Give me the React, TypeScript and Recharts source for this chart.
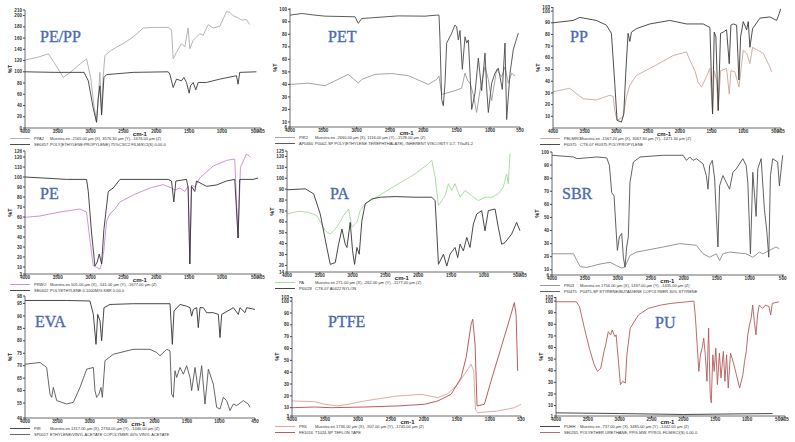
import React from "react";
import { LineChart, Line, XAxis, YAxis } from "recharts";

type Pt = [number, number];

// wavenumber (cm-1), %T
const pePpSample: Pt[] = [[4000,121],[3800,126],[3645,132],[3520,110],[3417,90],[3300,100],[3150,115],[3062,123],[3000,90],[2950,40],[2910,11],[2880,60],[2859,99],[2833,26],[2810,90],[2783,129],[2700,137],[2605,144],[2480,152],[2351,162],[2199,178],[2047,179],[1819,179],[1768,175],[1743,123],[1692,135],[1616,150],[1565,144],[1515,178],[1489,141],[1438,156],[1337,168],[1286,165],[1210,184],[1134,178],[1033,181],[931,207],[880,206],[830,200],[754,196],[700,192],[627,193],[576,184]];
const pePpRef: Pt[] = [[4000,100],[3550,99],[3100,99],[3036,84],[2960,35],[2910,10],[2884,53],[2859,75],[2833,23],[2798,90],[2757,95],[2351,99],[1819,100],[1794,96],[1743,72],[1692,87],[1616,84],[1580,90],[1540,81],[1499,62],[1479,75],[1438,81],[1398,68],[1362,81],[1236,81],[1033,87],[779,93],[754,78],[729,99],[475,100]];

const petRef: Pt[] = [[4000,95.3],[3825,96.6],[3625,95.3],[3475,94.5],[3025,94],[2975,88.7],[2925,92.6],[2375,94.7],[1975,94.5],[1800,95.3],[1765,95.3],[1750,75.5],[1725,28],[1700,23],[1675,41],[1650,73],[1575,80.8],[1525,87.4],[1500,86],[1475,75.5],[1450,83],[1415,52],[1375,78],[1350,73],[1325,75.5],[1300,49],[1275,20],[1225,33],[1175,61],[1125,35],[1075,65],[1050,37],[1025,17.6],[975,41],[925,49],[875,53],[815,36],[775,73],[750,12],[700,49],[650,68],[575,81]];
const petSample: Pt[] = [[4000,40],[3725,41],[3475,39],[3125,48],[2975,41],[2925,44],[2725,48],[2475,48.7],[2225,47],[1925,40],[1800,44],[1765,46.6],[1725,32],[1525,35],[1425,37],[1375,49],[1335,43],[1300,41],[1250,32],[1200,17.6],[1150,35],[1075,54],[1025,44],[975,27],[900,52],[825,46],[775,54],[725,41],[675,49],[625,46.6]];

const ppRef: Pt[] = [[4000,90],[3684,92],[3579,94.6],[3316,92],[3158,88],[3079,81],[3026,38],[2990,6.6],[2921,5],[2884,12],[2853,47],[2816,81],[2789,74],[2763,82],[2684,85],[2474,89],[2158,92],[1895,89],[1816,89],[1632,89],[1526,86],[1484,12],[1458,82],[1432,78],[1395,15],[1358,81],[1316,82],[1263,84],[1221,55],[1195,88],[1158,89],[1105,88],[1068,41],[1042,78],[1000,91],[947,84],[921,91],[895,69],[853,85],[737,94],[579,95],[474,92],[432,98],[411,102]];
const ppSample: Pt[] = [[4000,31],[3737,34],[3526,25],[3316,24],[3105,28],[3053,27],[3026,15],[2990,6.6],[2895,9.4],[2842,26.6],[2789,36.6],[2684,45],[2368,54],[2105,62],[1895,65],[1842,58],[1763,49],[1711,39],[1658,35],[1579,44],[1526,51],[1484,12],[1458,49],[1421,41],[1395,15],[1358,49],[1263,51],[1221,29],[1195,49],[1132,48],[1068,35],[1000,66.6],[947,64],[895,55],[853,69],[789,67],[684,64],[579,52],[553,48]];

const peRef: Pt[] = [[4000,100],[3620,98.6],[3366,97.6],[3062,97.6],[3036,85.5],[2986,44],[2935,11],[2899,15],[2869,23],[2833,13],[2798,47.6],[2732,85.5],[2656,89],[2554,97.6],[1819,97.6],[1768,96],[1733,75],[1702,96],[1540,97.6],[1515,89],[1489,13],[1464,90.7],[1413,85.5],[1388,96],[1236,90.7],[1084,92],[931,96],[805,97.6],[754,39],[729,97.6],[526,97.6],[449,99]];
const peSample: Pt[] = [[4000,59.7],[3772,61],[3467,65],[3163,68],[3062,65],[3011,37],[2960,11],[2910,9.7],[2859,8],[2833,13],[2798,27],[2757,56],[2707,63],[2631,68],[2554,75],[2352,82],[2098,89],[1895,92.4],[1768,89],[1718,87],[1641,89],[1565,85.5],[1515,90.7],[1489,13],[1464,92],[1413,90],[1337,99],[1134,111],[931,116.6],[805,118],[754,39],[718,109.7],[627,123],[566,120]];

const paRef: Pt[] = [[4000,89.4],[3721,90.3],[3594,85.7],[3493,67],[3392,36],[3341,21],[3265,22.6],[3214,39.5],[3163,53.4],[3113,39.5],[3087,36.5],[3037,59.5],[3001,33.4],[2971,21],[2935,36.5],[2900,30.3],[2859,61],[2809,76.5],[2707,81],[2580,82.6],[2352,83.2],[2048,82.6],[1795,82.6],[1744,79.5],[1719,51.8],[1693,21],[1617,30.3],[1566,19.5],[1516,30.3],[1440,36.5],[1399,27.2],[1364,39.5],[1313,33.4],[1262,45.7],[1212,36.5],[1161,58],[1110,67.2],[1034,70.3],[984,51.8],[933,70.3],[831,71.8],[781,55],[730,39.5],[679,41],[578,48.8],[502,59.5],[451,51.8]];
const paSample: Pt[] = [[4000,67.2],[3823,69.7],[3670,68.8],[3544,65.7],[3417,51.8],[3341,48.8],[3240,55],[3138,65.7],[3062,71.8],[3011,55],[2935,59.5],[2885,70.3],[2809,76.5],[2555,85.7],[2302,95],[2048,104],[1845,113.4],[1795,116.5],[1744,101],[1693,75],[1592,84],[1541,95],[1490,88.8],[1440,95],[1364,82.6],[1288,88.8],[1186,84],[1085,79.5],[984,82.6],[882,82.6],[781,85.7],[705,92],[654,104],[629,95],[603,122.6]];

const sbrRef: Pt[] = [[4000,97.5],[3673,96.2],[3622,94.9],[3320,96.2],[3169,95.5],[3129,89.7],[3094,69],[3058,66.4],[3028,40.4],[3008,24.8],[2978,35.2],[2942,37.8],[2917,19.6],[2892,12],[2867,27.4],[2842,35.2],[2817,76.8],[2766,92.3],[2665,96.2],[2313,97.5],[2011,97.5],[1960,93.6],[1910,96.2],[1860,93.6],[1809,94.9],[1709,91],[1658,82],[1633,71.6],[1608,89.7],[1568,93.6],[1532,79.4],[1507,52],[1482,27.4],[1457,74.2],[1407,82],[1356,76.8],[1306,71.6],[1255,84.5],[1205,87.1],[1104,94.9],[1054,89.7],[1029,76.8],[989,22.2],[953,84.5],[903,50.8],[878,87.1],[827,94.9],[777,56],[742,40.4],[711,19.6],[686,82],[651,94.9],[576,92.3],[550,74.2],[500,97.5]];
const sbrSample: Pt[] = [[4000,22.2],[3673,22.2],[3622,17],[3572,12.3],[3471,11.8],[3270,14.4],[3119,15.7],[3018,13.1],[2942,11.3],[2892,12.3],[2817,20.9],[2716,23.5],[2313,27.4],[2061,30],[1809,28.7],[1709,22.2],[1608,19.6],[1507,22.2],[1457,17],[1407,22.2],[1306,23.5],[1054,22.2],[953,19.6],[853,23.5],[802,22.2],[701,24.8],[601,27.4],[550,26.1]];

const evaRef: Pt[] = [[4000,96.2],[3357,96.2],[2997,96],[2945,90.6],[2904,78.6],[2878,90.6],[2842,88],[2817,80],[2781,93.3],[2688,94.6],[2328,94.9],[1762,94.9],[1726,78.6],[1700,92],[1608,94.6],[1505,93.9],[1453,93.3],[1428,89.9],[1402,92.6],[1350,93.3],[1325,85.3],[1299,93.3],[1247,93.3],[1196,91.3],[1093,91.3],[1016,90.6],[990,81.3],[964,90.6],[784,93.3],[707,90.6],[682,93.3],[604,91.3],[579,93.3],[450,92.6]];
const evaSample: Pt[] = [[4000,70.6],[3768,71.3],[3666,69.3],[3614,58.6],[3588,57.3],[3563,61.3],[3511,56],[3357,54.6],[3254,55.3],[3151,61.3],[3048,68.6],[2945,69.3],[2920,60],[2894,57.3],[2858,58.6],[2827,61.3],[2806,57.3],[2765,72],[2637,74.6],[2328,76.6],[2071,76.6],[1968,75.3],[1916,74],[1813,76.6],[1762,76],[1736,58.6],[1710,57.3],[1685,68],[1659,65.3],[1608,69.3],[1556,66.6],[1505,70],[1453,65.3],[1428,60],[1376,69.3],[1325,60],[1273,70],[1222,54.6],[1170,68.6],[1093,62.6],[1042,53.3],[990,52.6],[939,57.3],[887,56],[836,52],[784,54.6],[733,54],[630,56],[553,54.6],[527,53.3]];

const ptfeRef: Pt[] = [[4000,10],[3657,10.6],[3405,10],[2900,10.6],[2396,11.5],[1992,12.9],[1791,15.7],[1589,21.3],[1438,35.4],[1362,52.3],[1286,80.5],[1261,84.7],[1226,63.6],[1196,11.5],[1085,12.9],[984,32.6],[832,60.7],[681,88.9],[631,98.8],[605,88.9],[580,41]];
const ptfeSample: Pt[] = [[4000,15.7],[3657,15.1],[3506,12.9],[3304,11.5],[3102,13.4],[2900,15.7],[2648,17.9],[2396,19.9],[2043,21.3],[1791,18.5],[1639,21.9],[1488,29.8],[1387,38.2],[1286,46.7],[1246,41],[1221,8.6],[1185,5.8],[883,7.2],[631,10],[530,12.9]];

const puRef: Pt[] = [[4000,99.4],[3682,99.4],[3631,95.1],[3554,76.6],[3477,59.4],[3400,45.1],[3348,39.4],[3297,42.3],[3246,56.6],[3220,62.3],[3179,73.7],[3143,70.9],[3118,75.1],[3077,69.4],[3056,70.9],[3015,45.1],[2989,28],[2953,30.9],[2912,29.4],[2887,53.7],[2835,76.6],[2707,88],[2553,93.7],[2348,96.6],[2194,98],[1938,99.4],[1835,100],[1810,85.1],[1758,39.4],[1733,53.7],[1707,59.4],[1681,68],[1656,53.7],[1630,30.9],[1604,76.6],[1579,19.4],[1563,12.3],[1538,53.7],[1517,39.4],[1491,59.4],[1466,28],[1435,55.1],[1409,33.7],[1373,56.6],[1348,30.9],[1322,53.7],[1296,25.1],[1261,55.1],[1220,48],[1168,36.6],[1117,25.1],[1066,36.6],[1040,48],[1014,56.6],[989,70.9],[963,79.4],[937,85.1],[912,96.6],[886,82.3],[861,70.9],[835,88],[809,96.6],[758,93.7],[707,96.6],[655,95.1],[630,88],[604,98],[501,99.4]];
const puSample: Pt[] = [[4000,3.7],[3000,3.1],[2000,2.3],[1000,2.9],[600,3.1]];

const xTicksStd = [4000, 3500, 3000, 2500, 2000, 1500, 1000, 500];
const xTicksTo1000 = [4000, 3500, 3000, 2500, 2000, 1500, 1000];

const legendTexts = [
  ["PPA2", "Muestra en -2165.00 µm (X), 3576.30 µm (Y), -1676.00 µm (Z)", "SE0457", "POLY(ETHYLENE:PROPYLENE) 75%C3/C2 FILM/KCl(S)      0.00-0"],
  ["PIR2", "Muestra en -2660.00 µm (X), 1116.00 µm (Y), -1578.00 µm (Z)", "AP0460", "P0002-SP POLY(ETHYLENE TEREPHTHALATE), INHERENT VISCOSITY 0.7, TG=81.2"],
  ["PELMRO", "Muestra en -1567.20 µm (X), 3067.30 µm (Y), -1471.30 µm (Z)", "FI0375", "CTS-07 FI0375 POLYPROPYLENE"],
  ["PRWO", "Muestra en 505.00 µm (X), -541.00 µm (Y), -1677.00 µm (Z)", "SE0402", "POLYETHYLENE 0.1000M/G KBR      0.00-0"],
  ["PA", "Muestra en 271.00 µm (X), -262.00 µm (Y), -1177.00 µm (Z)", "PI0028", "CTS-07 A0422 NYLON"],
  ["PR03", "Muestra en 1756.00 µm (X), 1337.00 µm (Y), -1435.00 µm (Z)", "PI0475", "P0475-SP STYRENE/BUTADIENE COPOLYMER 30% STYRENE"],
  ["PIR", "Muestra en 1317.00 µm (X), 2734.00 µm (Y), -1440.00 µm (Z)", "SP0017", "ETHYLENE/VINYL ACETATE COPOLYMER 40% VINYL ACETATE"],
  ["PR6", "Muestra en 1736.00 µm (X), -907.00 µm (Y), -1745.00 µm (Z)", "FE1016", "T1024-SP TEFLON TAPE"],
  ["PUHH", "Muestra en -737.00 µm (X), 3485.00 µm (Y), -1442.00 µm (Z)", "SE0265", "POLYETHER URETHANE, PPG-MW, PYROL FILM/KCl(S)      0.00-0"],
];

const range = (a: number, b: number, s: number) => {
  const out: number[] = [];
  for (let v = a; v <= b; v += s) out.push(v);
  return out;
};

const panels = [
  { name: "PE/PP", col: 0, x: 25, y: 10, w: 236, h: 118, xDomain: [405, 4000], xTicks: [...xTicksStd, 405], yDomain: [0, 210], yTicks: [...range(0, 200, 20), 210], lx: 40, ly: 42,
    series: [{ pts: pePpSample, color: "#acacac" }, { pts: pePpRef, color: "#3a3a3a" }] },
  { name: "PET", col: 265, x: 290, y: 8, w: 230, h: 119, xDomain: [550, 4000], xTicks: [...xTicksTo1000, 550], yDomain: [6, 101], yTicks: [6, ...range(10, 100, 10)], lx: 328, ly: 42,
    series: [{ pts: petSample, color: "#9a9a9a" }, { pts: petRef, color: "#4a4a4a" }] },
  { name: "PP", col: 530, x: 553, y: 7, w: 228, h: 121, xDomain: [405, 4000], xTicks: [...xTicksStd, 405], yDomain: [0, 103.5], yTicks: [...range(10, 100, 10), 103], lx: 570, ly: 42,
    series: [{ pts: ppSample, color: "#c9a69b" }, { pts: ppRef, color: "#3a3a3a" }] },
  { name: "PE", col: 0, x: 25, y: 151, w: 236, h: 123, xDomain: [405, 4000], xTicks: [...xTicksStd, 405], yDomain: [3, 126], yTicks: [3, ...range(10, 120, 10), 126], lx: 40, ly: 199,
    series: [{ pts: peSample, color: "#c48ad4" }, { pts: peRef, color: "#333333" }] },
  { name: "PA", col: 265, x: 287, y: 151, w: 236, h: 121, xDomain: [405, 4000], xTicks: [...xTicksStd, 405], yDomain: [14, 125], yTicks: [14, ...range(20, 120, 10), 125], lx: 330, ly: 199,
    series: [{ pts: paSample, color: "#a3d89c" }, { pts: paRef, color: "#333333" }] },
  { name: "SBR", col: 530, x: 552, y: 152, w: 232, h: 123, xDomain: [480, 4000], xTicks: xTicksStd, yDomain: [6, 100], yTicks: [6, ...range(10, 100, 10)], lx: 562, ly: 199,
    series: [{ pts: sbrSample, color: "#8a8a8a" }, { pts: sbrRef, color: "#505050" }] },
  { name: "EVA", col: 0, x: 25, y: 296, w: 230, h: 122, xDomain: [450, 4000], xTicks: [...xTicksTo1000, 450], yDomain: [49, 98], yTicks: [49, ...range(55, 95, 5), 98], lx: 35, ly: 327,
    series: [{ pts: evaRef, color: "#333333" }, { pts: evaSample, color: "#555555" }] },
  { name: "PTFE", col: 265, x: 292, y: 297, w: 229, h: 119, xDomain: [530, 4000], xTicks: [...xTicksTo1000, 530], yDomain: [3, 103.5], yTicks: [3, ...range(10, 100, 10), 103], lx: 328, ly: 327,
    series: [{ pts: ptfeSample, color: "#d9a096" }, { pts: ptfeRef, color: "#b04c4c" }] },
  { name: "PU", col: 530, x: 556, y: 297, w: 229, h: 119, xDomain: [405, 4000], xTicks: [...xTicksStd, 405], yDomain: [1, 103.5], yTicks: [1, ...range(10, 100, 10), 103], lx: 655, ly: 328,
    series: [{ pts: puSample, color: "#333333" }, { pts: puRef, color: "#b35a5a" }] },
];

const tickStyle = { fontSize: 4.6, fill: "#333", fontWeight: 700, fontFamily: "Liberation Sans, Arial, sans-serif" };
const Y_AXIS_W = 26;
const X_AXIS_H = 9;
const M_TOP = 4;

function Panel({ p }: { p: (typeof panels)[number] }) {
  return (
    <div style={{ position: "absolute", left: p.x - Y_AXIS_W, top: p.y - M_TOP }}>
      <LineChart
        width={p.w + Y_AXIS_W + 4}
        height={p.h + X_AXIS_H + M_TOP}
        margin={{ top: M_TOP, right: 4, left: 0, bottom: 0 }}
      >
        <XAxis
          type="number"
          dataKey="wn"
          domain={p.xDomain}
          ticks={p.xTicks}
          reversed
          allowDataOverflow
          interval={0}
          height={X_AXIS_H}
          tick={tickStyle}
          tickSize={2}
          tickMargin={0}
          axisLine={{ stroke: "#444", strokeWidth: 0.8 }}
          tickLine={{ stroke: "#444" }}
        />
        <YAxis
          type="number"
          domain={p.yDomain}
          ticks={p.yTicks}
          allowDataOverflow
          interval={0}
          width={Y_AXIS_W}
          tick={tickStyle}
          tickSize={2}
          tickMargin={1}
          axisLine={{ stroke: "#444", strokeWidth: 0.8 }}
          tickLine={{ stroke: "#444" }}
        />
        {p.series.map((s, i) => (
          <Line
            key={i}
            data={s.pts.map(([wn, t]) => ({ wn, t }))}
            dataKey="t"
            type="linear"
            stroke={s.color}
            strokeWidth={0.9}
            dot={false}
            isAnimationActive={false}
          />
        ))}
      </LineChart>
    </div>
  );
}

export default function App() {
  return (
    <div style={{ position: "absolute", left: 0, top: 0, width: 795, height: 442, background: "#fff", overflow: "hidden" }}>
      {panels.map((p) => (
        <Panel key={p.name} p={p} />
      ))}
      <svg width={795} height={442} style={{ position: "absolute", left: 0, top: 0, pointerEvents: "none" }}>
        {panels.map((p, i) => {
          const bottom = p.y + p.h;
          const lt = legendTexts[i];
          // "cm-1" sits between the 2500 and 2000 tick labels
          const cmX = p.x + (p.w * (p.xDomain[1] - 2250)) / (p.xDomain[1] - p.xDomain[0]);
          return (
            <g key={p.name}>
              <text x={p.lx} y={p.ly} fill="#4a6aae" fontSize={16} fontFamily="Liberation Serif, serif" stroke="#4a6aae" strokeWidth={0.35}>
                {p.name}
              </text>
              <text
                transform={`translate(${p.x - 13},${p.y + p.h / 2}) rotate(-90)`}
                textAnchor="middle"
                fontSize={5.5}
                fontWeight={700}
                fill="#222"
                fontFamily="Liberation Sans, Arial, sans-serif"
              >
                %T
              </text>
              <text x={cmX} y={bottom + 7.6} textAnchor="middle" fontSize={6} fontWeight={700} fill="#222" fontFamily="Liberation Sans, Arial, sans-serif">
                cm-1
              </text>
              {[0, 1].map((r) => {
                const yy = bottom + 10.5 + r * 6;
                return (
                  <g key={r} fontFamily="Liberation Sans, Arial, sans-serif" fontSize={4} fill="#333">
                    <line x1={p.col + 10} x2={p.col + 30} y1={yy} y2={yy} stroke={p.series[r].color} strokeWidth={0.9} />
                    <text x={p.col + 34} y={yy + 1.4}>{lt[r * 2]}</text>
                    <text x={p.col + 50} y={yy + 1.4}>{lt[r * 2 + 1]}</text>
                  </g>
                );
              })}
            </g>
          );
        })}
      </svg>
    </div>
  );
}
